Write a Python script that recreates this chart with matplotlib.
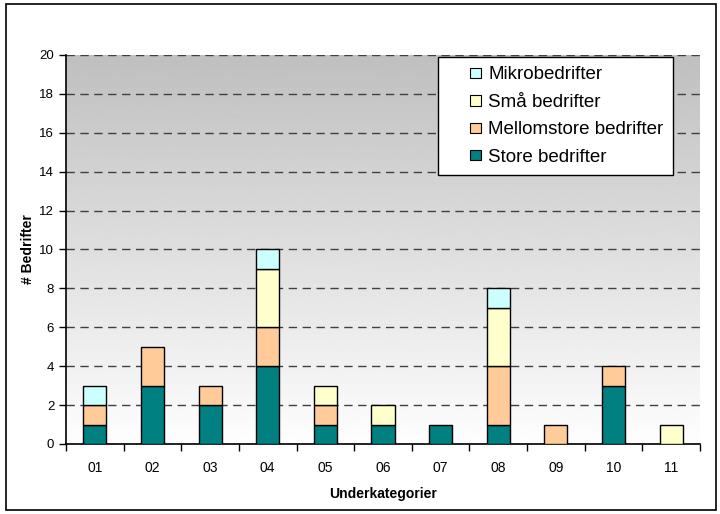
import numpy as np
import matplotlib
matplotlib.use("Agg")
import matplotlib.pyplot as plt
from matplotlib.patches import Rectangle
from matplotlib.legend_handler import HandlerPatch

plt.rcParams['font.family'] = ['Liberation Sans', 'DejaVu Sans']

# Data
categories = ['01', '02', '03', '04', '05', '06', '07', '08', '09', '10', '11']
store = [1, 3, 2, 4, 1, 1, 1, 1, 0, 3, 0]
mellomstore = [1, 2, 1, 2, 1, 0, 0, 3, 1, 1, 0]
smaa = [0, 0, 0, 3, 1, 1, 0, 3, 0, 0, 1]
mikro = [1, 0, 0, 1, 0, 0, 0, 1, 0, 0, 0]

series = [
    ('Store bedrifter', store, '#008080'),
    ('Mellomstore bedrifter', mellomstore, '#FFCC99'),
    ('Små bedrifter', smaa, '#FFFFCC'),
    ('Mikrobedrifter', mikro, '#CCFFFF'),
]

fig = plt.figure(figsize=(7.2, 5.14), dpi=100)
fig.patches.append(Rectangle((0.008, 0.008), 0.986, 0.985, transform=fig.transFigure,
                             fill=False, edgecolor='black', linewidth=1.2))
ax = fig.add_axes([0.0917, 0.1362, 0.8805, 0.7568])

# gradient background: gray at top, white at bottom
grad = np.linspace(0.995, 0.75, 256).reshape(-1, 1)
ax.imshow(grad, cmap='gray', vmin=0, vmax=1, extent=[0, 1, 0, 1], transform=ax.transAxes,
          aspect='auto', zorder=0, origin='lower')
ax.set_facecolor('white')

x = np.arange(len(categories))
bottom = np.zeros(len(categories))
for name, vals, color in series:
    vals = np.array(vals, dtype=float)
    mask = vals > 0
    ax.bar(x[mask], vals[mask], width=0.4, bottom=bottom[mask], color=color,
           edgecolor='black', linewidth=1.0, label=name, zorder=3)
    bottom += vals

ax.set_xlim(-0.5, len(categories) - 0.5)
ax.set_ylim(0, 20)
ax.set_yticks(range(0, 21, 2))
ax.yaxis.grid(True, linestyle=(0, (6, 4)), color='#404040', linewidth=1.0, zorder=1)
ax.set_axisbelow(True)

ax.set_xticks(np.arange(-0.5, len(categories), 1.0))
ax.set_xticklabels([])
ax.set_xticks(x, minor=True)
ax.set_xticklabels(categories, minor=True)
ax.tick_params(axis='x', which='minor', length=0, pad=12, labelsize=10)
ax.tick_params(axis='x', which='major', length=5, direction='out', width=1)
ax.tick_params(axis='y', length=5, direction='out', width=1, labelsize=9.5)

for s in ['top', 'right']:
    ax.spines[s].set_visible(False)
ax.spines['left'].set_linewidth(1.2)
ax.spines['bottom'].set_linewidth(1.2)

ax.set_xlabel('Underkategorier', fontsize=10, fontweight='bold', labelpad=9)
ax.set_ylabel('# Bedrifter', fontsize=10, fontweight='bold', labelpad=3)


# small square legend marker placed at the right end of the handle box
def square_patch(legend, orig_handle, xdescent, ydescent, width, height, fontsize):
    s = 7.5
    return Rectangle((-xdescent + width - s, -ydescent + (height - s) / 2), s, s)


proxies = [Rectangle((0, 0), 1, 1, facecolor=c, edgecolor='black', linewidth=0.8)
           for _, _, c in series]
leg = ax.legend(proxies[::-1], [s[0] for s in series][::-1], loc='upper right',
                bbox_to_anchor=(0.957, 0.995), fontsize=13.5, frameon=True, fancybox=False,
                edgecolor='black', framealpha=1, handlelength=1.75, handleheight=0.7,
                handletextpad=0.4, labelspacing=0.55, borderpad=0.5, borderaxespad=0,
                handler_map={Rectangle: HandlerPatch(patch_func=square_patch)})
leg.get_frame().set_linewidth(1.0)

fig.savefig('out.png', dpi=100)
